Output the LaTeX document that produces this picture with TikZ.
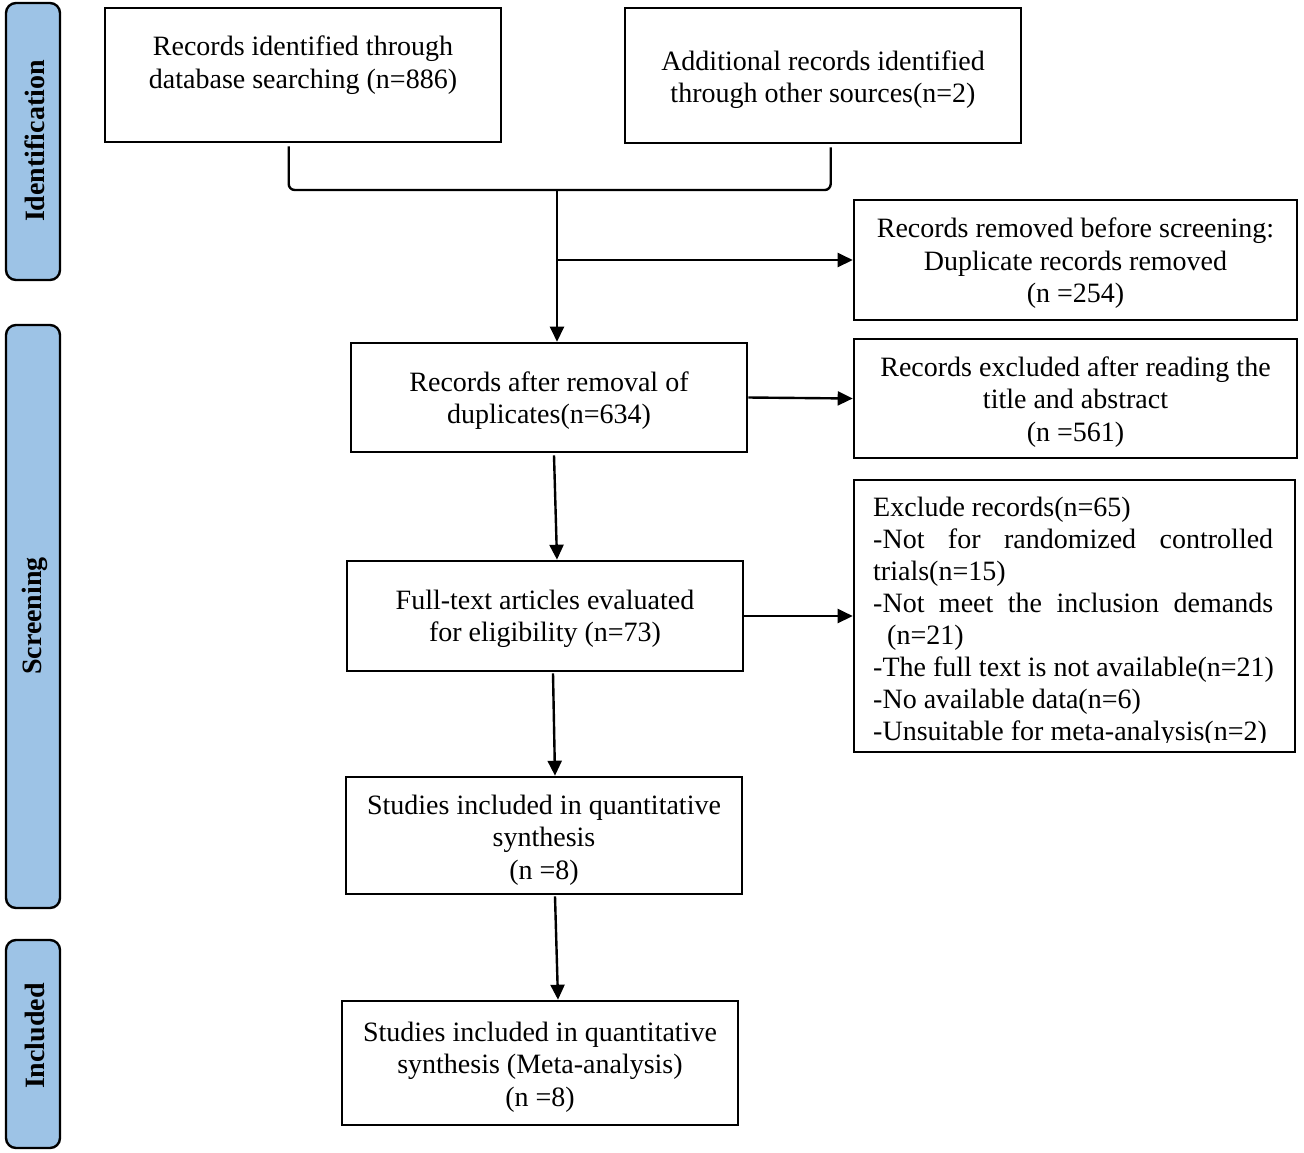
\documentclass[tikz,border=0pt]{standalone}
\usepackage{fontspec}
\setmainfont{Liberation Serif}
\usetikzlibrary{arrows.meta,calc}
\definecolor{barblue}{RGB}{157,195,230}
\tikzset{
 box/.style={draw, line width=2.6pt, inner sep=0pt},
 txt/.style={inner sep=0pt, align=center, font=\fontsize{28}{32.5}\selectfont},
 bar/.style={draw, fill=barblue, line width=2.4pt, rounded corners=10pt, inner sep=0pt},
 barlabel/.style={rotate=90, inner sep=0pt, font=\fontsize{28}{30}\selectfont\bfseries},
 arr/.style={line width=2.4pt, -{Triangle[length=15pt,width=14pt]}},
 conn/.style={line width=2.4pt}
}
\begin{document}
\begin{tikzpicture}[x=1pt,y=-1pt]
\useasboundingbox (0,0) rectangle (1304,1152);
% side bars
\node[bar, minimum width=54pt, minimum height=277pt] (s1) at (33,141.5) {};
\node[barlabel] (l1) at (35,141) {Identification};
\node[bar, minimum width=54pt, minimum height=583pt] (s2) at (33,616.5) {};
\node[barlabel] (l2) at (35,616) {Screening};
\node[bar, minimum width=54pt, minimum height=208pt] (s3) at (33,1044) {};
\node[barlabel] (l3) at (35,1036) {Included};
% boxes
\node[box, minimum width=396pt, minimum height=134pt] (b1) at (303,75) {};
\node[txt] (t1) at (303,65) {Records identified through\\database searching (n=886)};
\node[box, minimum width=396pt, minimum height=135pt] (b2) at (823,75.5) {};
\node[txt] (t2) at (823,79.5) {Additional records identified\\through other sources(n=2)};
\node[box, minimum width=443pt, minimum height=120pt] (b3) at (1075.5,260) {};
\node[txt] (t3) at (1075.5,263.5) {Records removed before screening:\\Duplicate records removed\\(n =254)};
\node[box, minimum width=396pt, minimum height=109pt] (b4) at (549,397.5) {};
\node[txt] (t4) at (549,400.5) {Records after removal of\\duplicates(n=634)};
\node[box, minimum width=443pt, minimum height=119pt] (b5) at (1075.5,398.5) {};
\node[txt] (t5) at (1075.5,402) {Records excluded after reading the\\title and abstract\\(n =561)};
\node[box, minimum width=441pt, minimum height=272pt] (b6) at (1074.5,616) {};
\begin{scope}
\clip (856,482) rectangle (1293,742);
\node[txt, align=left, font=\fontsize{28}{32}\selectfont, anchor=north west] (t6) at (873,497) {Exclude records(n=65)\\
\makebox[400pt][l]{-Not\hfill for\hfill randomized\hfill controlled}\\
trials(n=15)\\
\makebox[400pt][l]{-Not\hfill meet\hfill the\hfill inclusion\hfill demands}\\
\hspace*{14pt}(n=21)\\
-The full text is not available(n=21)\\
-No available data(n=6)\\
-Unsuitable for meta-analysis(n=2)};
\end{scope}
\node[box, minimum width=396pt, minimum height=110pt] (b7) at (545,616) {};
\node[txt] (t7) at (545,619) {Full-text articles evaluated\\for eligibility (n=73)};
\node[box, minimum width=396pt, minimum height=117pt] (b8) at (544,835.5) {};
\node[txt] (t8) at (544,840) {Studies included in quantitative\\synthesis\\(n =8)};
\node[box, minimum width=396pt, minimum height=124pt] (b9) at (540,1063) {};
\node[txt] (t9) at (540,1067) {Studies included in quantitative\\synthesis (Meta-analysis)\\(n =8)};
% bracket
\coordinate (jl) at ($(b1.south west)+(185,3)$);
\coordinate (jr) at ($(b2.south west)+(207,3)$);
\coordinate (jm) at (557,190);
\coordinate (jk) at (557,260);
\draw[conn, rounded corners=6pt] (jl) -- (jl |- jm) -- (jr |- jm) -- (jr);
\draw[arr] (jm) -- (jm |- b4.north);
\draw[arr] (jk) -- (jk -| b3.west);
\draw[arr] (b4.east) -- (b5.west);
\draw[arr] ($(b4.south)+(5,2)$) -- ($(b7.north)+(12,0)$);
\draw[arr] (b7.east) -- (b6.west);
\draw[arr] ($(b7.south)+(8,1)$) -- ($(b8.north)+(11,0)$);
\draw[arr] ($(b8.south)+(11,1)$) -- ($(b9.north)+(18,0)$);
\end{tikzpicture}
\end{document}
